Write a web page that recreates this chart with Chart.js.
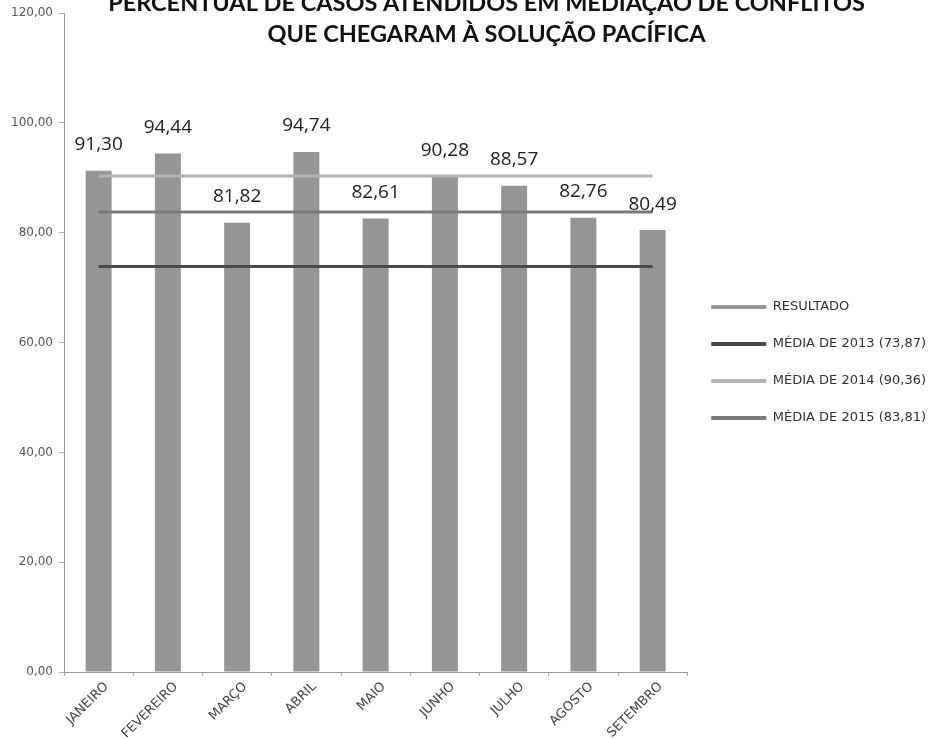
<!DOCTYPE html>
<html>
<head>
<meta charset="utf-8">
<script src="https://cdn.jsdelivr.net/npm/chart.js@4"></script>
<style>
  html, body { margin: 0; padding: 0; background: #fff; }
  canvas { display: block; }
</style>
</head>
<body>
<canvas id="c" width="939" height="739"></canvas>
<script>
const TITLE_LINES = ['PERCENTUAL DE CASOS ATENDIDOS EM MEDIAÇÃO DE CONFLITOS', 'QUE CHEGARAM À SOLUÇÃO PACÍFICA'];
const MONTHS = ['JANEIRO', 'FEVEREIRO', 'MARÇO', 'ABRIL', 'MAIO', 'JUNHO', 'JULHO', 'AGOSTO', 'SETEMBRO'];
const RESULTADO = [91.30, 94.44, 81.82, 94.74, 82.61, 90.28, 88.57, 82.76, 80.49];
const MEDIA_2013 = [73.87, 73.87, 73.87, 73.87, 73.87, 73.87, 73.87, 73.87, 73.87];
const MEDIA_2014 = [90.36, 90.36, 90.36, 90.36, 90.36, 90.36, 90.36, 90.36, 90.36];
const MEDIA_2015 = [83.81, 83.81, 83.81, 83.81, 83.81, 83.81, 83.81, 83.81, 83.81];
const SERIES_NAMES = ['RESULTADO', 'MÉDIA DE 2013 (73,87)', 'MÉDIA DE 2014 (90,36)', 'MÉDIA DE 2015 (83,81)'];
const Y_TICK_LABELS = ['0,00', '20,00', '40,00', '60,00', '80,00', '100,00', '120,00'];

const fmt = v => v.toFixed(2).replace('.', ',');

const dataLabels = {
  id: 'dataLabels',
  afterDatasetsDraw(chart) {
    const meta = chart.getDatasetMeta(0);
    const ctx = chart.ctx;
    ctx.save();
    ctx.font = '19px "Open Sans"';
    ctx.fillStyle = '#222';
    ctx.textAlign = 'center';
    ctx.textBaseline = 'middle';
    meta.data.forEach((bar, i) => {
      ctx.fillText(fmt(RESULTADO[i]), bar.x, bar.y - 26);
    });
    ctx.restore();
  }
};

new Chart(document.getElementById('c'), {
  data: {
    labels: MONTHS,
    datasets: [
      { type: 'bar', label: SERIES_NAMES[0], data: RESULTADO, backgroundColor: '#959595', borderWidth: 0, order: 2,
        categoryPercentage: 1.0, barPercentage: 0.375 },
      { type: 'line', label: SERIES_NAMES[1], data: MEDIA_2013, borderColor: '#4a4a4a', backgroundColor: '#4a4a4a', borderWidth: 3, pointRadius: 0, order: 1 },
      { type: 'line', label: SERIES_NAMES[2], data: MEDIA_2014, borderColor: '#b4b4b4', backgroundColor: '#b4b4b4', borderWidth: 3, pointRadius: 0, order: 1 },
      { type: 'line', label: SERIES_NAMES[3], data: MEDIA_2015, borderColor: '#7a7a7a', backgroundColor: '#7a7a7a', borderWidth: 3, pointRadius: 0, order: 1 }
    ]
  },
  options: {
    responsive: false,
    animation: false,
    devicePixelRatio: 1,
    layout: { padding: { top: 0, left: 6, right: -28, bottom: 0 } },
    scales: {
      x: {
        afterFit(s) { s.height = 67; },
        grid: { drawOnChartArea: false, drawTicks: true, tickLength: 4, color: '#aaaaaa' },
        border: { display: true, color: '#999999', dash: [2, 2] },
        ticks: { minRotation: 45, maxRotation: 45, autoSkip: false, labelOffset: 8, padding: 3,
                 color: '#444', font: { family: 'DejaVu Sans', size: 13 } }
      },
      y: {
        min: 0, max: 120,
        afterFit(s) { s.width = 58; },
        grid: { drawOnChartArea: false, drawTicks: true, tickLength: 5, color: '#aaaaaa' },
        border: { display: true, color: '#999999', dash: [2, 2] },
        ticks: { stepSize: 20, padding: 6, color: '#555',
                 font: { family: 'DejaVu Sans', size: 12 },
                 callback: (v, i) => Y_TICK_LABELS[i] }
      },
      spacer: {
        type: 'linear', position: 'right', weight: 2000, display: true,
        afterFit(s) { s.width = 31; },
        grid: { display: false }, border: { display: false }, ticks: { display: false }
      }
    },
    plugins: {
      tooltip: { enabled: false },
      title: {
        display: true,
        text: TITLE_LINES,
        color: '#111',
        font: { family: 'Lato', size: 23.5, weight: 'bold', lineHeight: 1.32 },
        padding: { top: -15, bottom: -37 }
      },
      legend: {
        position: 'right',
        fullSize: false,
        maxWidth: 300,
        title: { display: true, text: ' ', padding: { top: 12, bottom: 12 }, font: { size: 13 } },
        labels: {
          boxWidth: 55, boxHeight: 4, padding: 24,
          color: '#333', font: { family: 'DejaVu Sans', size: 13 },
          sort: (a, b) => a.datasetIndex - b.datasetIndex,
          generateLabels(chart) {
            const items = Chart.defaults.plugins.legend.labels.generateLabels(chart);
            items.forEach(it => { it.lineWidth = 0; });
            return items;
          }
        }
      }
    }
  },
  plugins: [dataLabels]
});
</script>
</body>
</html>
